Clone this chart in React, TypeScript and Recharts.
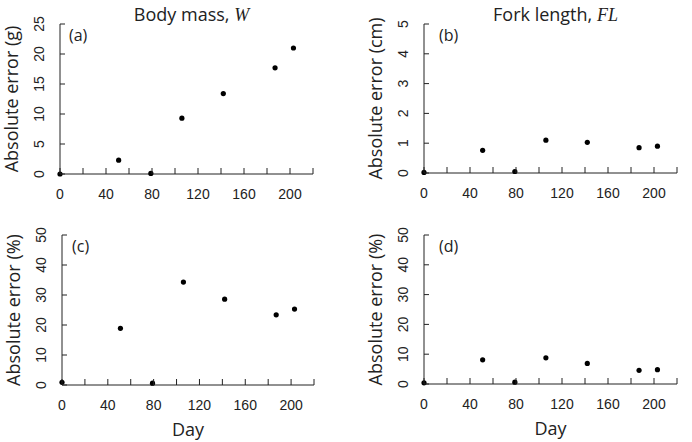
import { ScatterChart, Scatter, XAxis, YAxis, Label } from 'recharts';

// sampling days (x) shared by all four panels
const days = [0, 51, 79, 106, 142, 187, 203];

// absolute errors
const massErrG = [0, 2.3, 0.1, 9.3, 13.4, 17.7, 21.0];
const forkErrCm = [0.02, 0.76, 0.05, 1.1, 1.03, 0.85, 0.9];
const massErrPct = [0.9, 18.9, 0.6, 34.3, 28.6, 23.4, 25.3];
const forkErrPct = [0.4, 8.1, 0.6, 8.8, 6.9, 4.6, 4.8];

const xTicks = [0, 20, 40, 60, 80, 100, 120, 140, 160, 180, 200, 220];
const gTicks = [0, 5, 10, 15, 20, 25];
const cmTicks = [0, 1, 2, 3, 4, 5];
const pctTicks = [0, 10, 20, 30, 40, 50];

const INK = '#222';
const TICK_FONT = '"Liberation Sans", Arial, sans-serif';
const LABEL_FONT = '"Open Sans", "Noto Sans", sans-serif';

const XTick = (props: any) => {
  const { x, y, payload } = props;
  const v = payload.value;
  return (
    <g>
      <line x1={x} x2={x} y1={y} y2={y - 6} stroke={INK} />
      {v % 40 === 0 && v <= 200 && (
        <text x={x} y={y + 25} textAnchor="middle" fontSize={14} fontFamily={TICK_FONT} fill={INK}>
          {v}
        </text>
      )}
    </g>
  );
};

const YTick = (props: any) => {
  const { x, y, payload } = props;
  return (
    <g>
      <line x1={x} x2={x + 5} y1={y} y2={y} stroke={INK} />
      <text
        transform={`translate(${x - 16},${y}) rotate(-90)`}
        textAnchor="middle"
        fontSize={14}
        fontFamily={TICK_FONT}
        fill={INK}
      >
        {payload.value}
      </text>
    </g>
  );
};

const BlackDot = (props: any) => <circle cx={props.cx} cy={props.cy} r={2.6} fill="#000" />;

type PanelProps = {
  left: number;
  top: number;
  plotLeft: number;
  plotRight: number;
  plotTop: number;
  plotBottom: number;
  values: number[];
  yTicks: number[];
  yLabel: string;
  title?: [string, string];
  letter: string;
  letterDx: number;
  showDay?: boolean;
};

const Panel = ({
  left, top, plotLeft, plotRight, plotTop, plotBottom,
  values, yTicks, yLabel, title, letter, letterDx, showDay,
}: PanelProps) => {
  const data = days.map((d, i) => ({ day: d, err: values[i] }));
  const yMax = yTicks[yTicks.length - 1];
  const plotH = plotBottom - plotTop;
  return (
    <div style={{ position: 'absolute', left, top, width: 346, height: 221 }}>
      <ScatterChart
        width={346}
        height={221}
        margin={{ top: plotTop, right: 346 - plotRight, left: 0, bottom: 0 }}
      >
        <XAxis
          type="number"
          dataKey="day"
          domain={[0, 220]}
          ticks={xTicks}
          interval={0}
          height={221 - plotBottom}
          tickSize={0}
          tickMargin={0}
          tickLine={false}
          tick={<XTick />}
          axisLine={{ stroke: INK }}
        >
          {showDay && (
            <Label
              content={(p: any) => (
                <text
                  x={p.viewBox.x + p.viewBox.width / 2}
                  y={p.viewBox.y + 51}
                  textAnchor="middle"
                  fontSize={18}
                  fontFamily={LABEL_FONT}
                  fill={INK}
                >
                  Day
                </text>
              )}
            />
          )}
        </XAxis>
        <YAxis
          type="number"
          dataKey="err"
          domain={[0, yMax]}
          ticks={yTicks}
          interval={0}
          width={plotLeft}
          tickSize={0}
          tickMargin={0}
          tickLine={false}
          tick={<YTick />}
          axisLine={{ stroke: INK }}
        >
          <Label
            content={() => (
              <g>
                <text
                  transform={`translate(${plotLeft - 42},${plotTop + plotH / 2}) rotate(-90)`}
                  textAnchor="middle"
                  fontSize={18}
                  fontFamily={LABEL_FONT}
                  fill={INK}
                >
                  {yLabel}
                </text>
                <text x={plotLeft + letterDx} y={plotTop + 17} fontSize={16} fontFamily={LABEL_FONT} fill={INK}>
                  {letter}
                </text>
                {title && (
                  <text
                    x={(plotLeft + plotRight) / 2 + 5}
                    y={plotTop - 3}
                    textAnchor="middle"
                    fontSize={18}
                    fontFamily={LABEL_FONT}
                    fill={INK}
                  >
                    {title[0]}
                    <tspan fontFamily='"Liberation Serif", "DejaVu Serif", serif' fontStyle="italic">
                      {title[1]}
                    </tspan>
                  </text>
                )}
              </g>
            )}
          />
        </YAxis>
        <Scatter data={data} isAnimationActive={false} shape={<BlackDot />} />
      </ScatterChart>
    </div>
  );
};

export default function App() {
  return (
    <div style={{ position: 'absolute', left: 0, top: 0, width: 692, height: 442, background: '#fff' }}>
      <Panel
        left={0} top={0} plotLeft={60} plotRight={313} plotTop={24} plotBottom={174}
        values={massErrG} yTicks={gTicks} yLabel="Absolute error (g)"
        title={['Body mass, ', 'W']} letter="(a)" letterDx={9}
      />
      <Panel
        left={346} top={0} plotLeft={78} plotRight={331} plotTop={24} plotBottom={173}
        values={forkErrCm} yTicks={cmTicks} yLabel="Absolute error (cm)"
        title={['Fork length, ', 'FL']} letter="(b)" letterDx={15}
      />
      <Panel
        left={0} top={221} plotLeft={62} plotRight={314} plotTop={14} plotBottom={164}
        values={massErrPct} yTicks={pctTicks} yLabel="Absolute error (%)"
        letter="(c)" letterDx={10} showDay
      />
      <Panel
        left={346} top={221} plotLeft={78} plotRight={331} plotTop={14} plotBottom={163}
        values={forkErrPct} yTicks={pctTicks} yLabel="Absolute error (%)"
        letter="(d)" letterDx={15} showDay
      />
    </div>
  );
}
